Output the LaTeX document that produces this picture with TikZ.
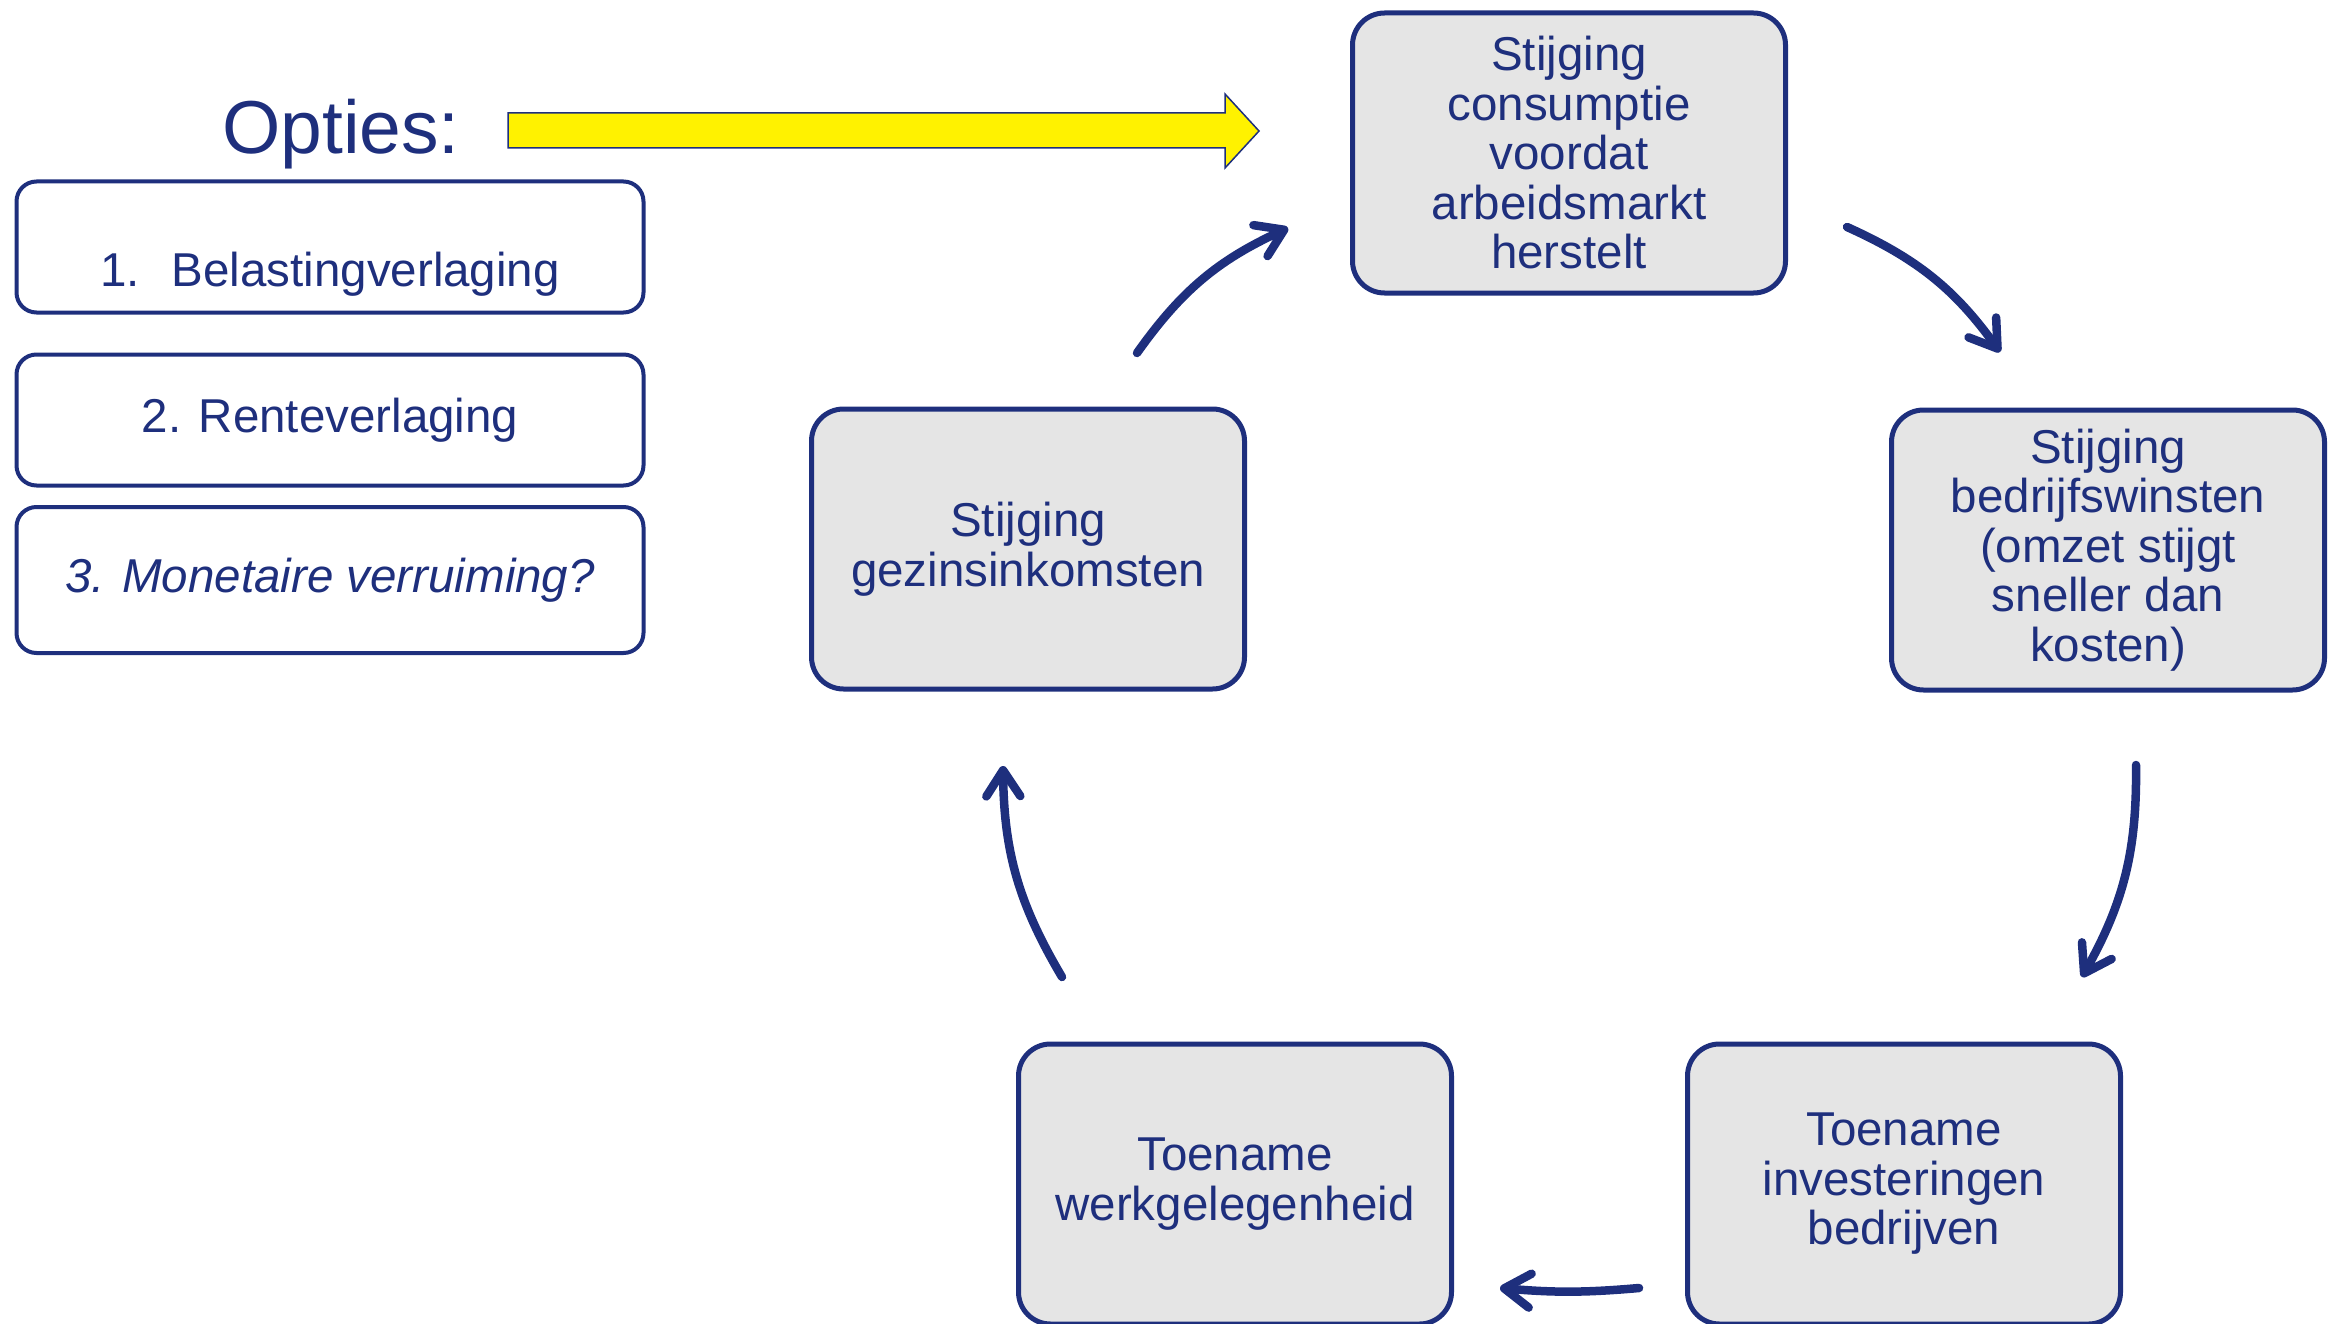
\documentclass[tikz,border=0pt]{standalone}
\usepackage{fontspec}
\setmainfont{Liberation Sans}
\usetikzlibrary{arrows.meta}
\definecolor{navy}{RGB}{30,47,125}
\definecolor{boxgray}{RGB}{229,229,229}
\begin{document}
\begin{tikzpicture}[x=1pt,y=-1pt,
  cyclebox/.style={draw=navy, line width=5pt, fill=boxgray, rounded corners=32pt,
    minimum width=433pt, minimum height=280pt, align=center, text=navy,
    font=\fontsize{47.5}{49.5}\selectfont, inner sep=0pt},
  optbox/.style={draw=navy, line width=4pt, fill=white, rounded corners=20pt,
    minimum width=627pt, minimum height=131pt, align=center, text=navy,
    font=\fontsize{47.5}{49.5}\selectfont, inner sep=0pt},
  cyc/.style={draw=navy, line width=8.5pt, line cap=round,
    -{Straight Barb[length=26pt,width=34pt,round]}}
]
\useasboundingbox (0,0) rectangle (2328,1324);
\clip (0,0) rectangle (2328,1324);

% Options
\node[text=navy, font=\fontsize{75}{80}\selectfont, anchor=base, inner sep=0pt] (opties) at (341,154) {Opties:};
\node[optbox] (opt1) at (330,247) {\raisebox{-40pt}[0pt][0pt]{1.\hspace{32pt}Belastingverlaging}};
\node[optbox] (opt2) at (330,420) {\raisebox{-5pt}{2. Renteverlaging}};
\node[optbox, minimum height=146pt] (opt3) at (330,580) {\raisebox{-4pt}{\itshape 3. Monetaire verruiming?}};

% yellow block arrow
\draw[fill=yellow, draw=navy, line width=1.5pt, line join=miter]
  (508,113) -- (1225,113) -- (1225,94) -- (1259,131) -- (1225,168) -- (1225,148) -- (508,148) -- cycle;

% cycle
\node[cyclebox] (top) at (1569,153) {Stijging\\consumptie\\voordat\\arbeidsmarkt\\herstelt};
\node[cyclebox] (right) at (2108,550) {Stijging\\bedrijfswinsten\\(omzet stijgt\\sneller dan\\kosten)};
\node[cyclebox] (botright) at (1904,1184) {Toename\\investeringen\\bedrijven};
\node[cyclebox] (botleft) at (1235,1184) {Toename\\werkgelegenheid};
\node[cyclebox] (left) at (1028,549) {Stijging\\gezinsinkomsten};

\coordinate (a1s) at (1137,353); \coordinate (a1e) at (1288,228);
\coordinate (a2s) at (1847,227); \coordinate (a2e) at (2000,352);
\coordinate (a3s) at (2136,765); \coordinate (a3e) at (2082,977);
\coordinate (a4s) at (1639,1288); \coordinate (a4e) at (1500,1288);
\coordinate (a5s) at (1062,977); \coordinate (a5e) at (1003,766);

\draw[cyc] (a1s) to[bend left=15] (a1e);
\draw[cyc] (a2s) to[bend left=15] (a2e);
\draw[cyc] (a3s) to[bend left=15] (a3e);
\draw[cyc] (a4s) to[bend left=5] (a4e);
\draw[cyc] (a5s) to[bend left=15] (a5e);
\end{tikzpicture}
\end{document}
